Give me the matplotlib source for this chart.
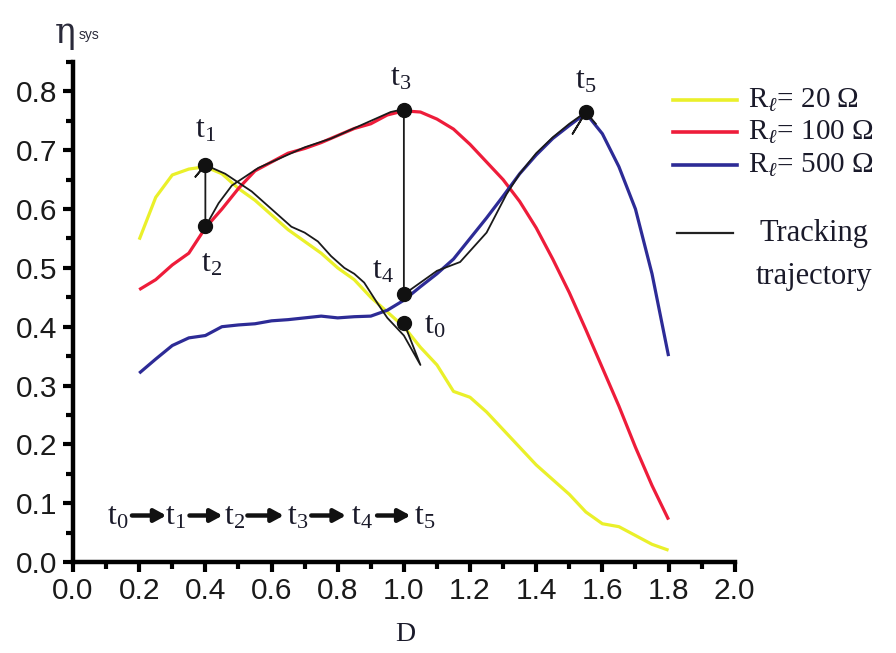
import matplotlib
matplotlib.use("Agg")
import matplotlib.pyplot as plt
from matplotlib.ticker import MultipleLocator, FormatStrFormatter
from matplotlib.lines import Line2D

plt.rcParams['mathtext.fontset'] = 'custom'
plt.rcParams['mathtext.rm'] = 'Liberation Serif'
plt.rcParams['mathtext.it'] = 'Liberation Serif:italic'

# Duty cycle D
d = [0.2, 0.25, 0.3, 0.35, 0.4, 0.45, 0.5, 0.55, 0.6, 0.65, 0.7, 0.75, 0.8,
     0.85, 0.9, 0.95, 1.0, 1.05, 1.1, 1.15, 1.2, 1.25, 1.3, 1.35, 1.4, 1.45,
     1.5, 1.55, 1.6, 1.65, 1.7, 1.75, 1.8]

# System efficiency for each load
eta_20 = [0.548, 0.62, 0.658, 0.668, 0.672, 0.66, 0.635, 0.615, 0.59, 0.565,
          0.545, 0.525, 0.50, 0.48, 0.45, 0.425, 0.40, 0.365, 0.335, 0.29,
          0.28, 0.255, 0.225, 0.195, 0.165, 0.14, 0.115, 0.085, 0.065, 0.06,
          0.045, 0.03, 0.02]
eta_100 = [0.463, 0.48, 0.505, 0.525, 0.568, 0.60, 0.635, 0.665, 0.68, 0.695,
           0.703, 0.713, 0.725, 0.737, 0.745, 0.76, 0.767, 0.765, 0.753, 0.736,
           0.71, 0.68, 0.65, 0.613, 0.568, 0.515, 0.458, 0.395, 0.33, 0.265,
           0.195, 0.13, 0.072]
eta_500 = [0.321, 0.345, 0.368, 0.381, 0.385, 0.40, 0.403, 0.405, 0.41, 0.412,
           0.415, 0.418, 0.415, 0.417, 0.418, 0.428, 0.445, 0.468, 0.49, 0.515,
           0.55, 0.585, 0.622, 0.66, 0.692, 0.72, 0.742, 0.763, 0.728, 0.672,
           0.60, 0.49, 0.35]

# Tracking trajectory (operating points visited by the tracker)
track_d = [1.0, 1.05, 1.0, 0.95, 0.92, 0.88, 0.85, 0.82, 0.78, 0.74, 0.70,
           0.66, 0.62, 0.58, 0.54, 0.50, 0.46, 0.42, 0.40, 0.37, 0.40,
           0.40, 0.44, 0.48, 0.52, 0.56, 0.62, 0.70, 0.78, 0.86, 0.92, 0.96,
           1.0, 1.0, 1.05, 1.1, 1.17, 1.25, 1.31, 1.35, 1.4, 1.45, 1.5,
           1.55, 1.51, 1.55, 1.58]
track_eta = [0.407, 0.335, 0.385, 0.415, 0.44, 0.475, 0.49, 0.50, 0.52, 0.545,
             0.56, 0.57, 0.59, 0.61, 0.63, 0.645, 0.66, 0.67, 0.675, 0.655,
             0.675, 0.57, 0.61, 0.64, 0.655, 0.67, 0.685, 0.705, 0.72, 0.74,
             0.755, 0.765, 0.77, 0.455, 0.475, 0.495, 0.51, 0.56, 0.625,
             0.66, 0.695, 0.722, 0.745, 0.765, 0.728, 0.765, 0.745]

# Marked tracking states
state_names = ['t$_0$', 't$_1$', 't$_2$', 't$_3$', 't$_4$', 't$_5$']
state_d = [1.0, 0.40, 0.40, 1.0, 1.0, 1.55]
state_eta = [0.407, 0.675, 0.572, 0.769, 0.455, 0.765]

c_yellow = '#eaf02a'
c_red = '#ee1c3a'
c_blue = '#2d2b96'
c_text = '#1a1a2a'

fig = plt.figure(figsize=(8.96, 6.53), dpi=100)
ax = fig.add_axes([0.0815, 0.1394, 0.7385, 0.7656])

ax.plot(d, eta_20, color=c_yellow, lw=2.3, solid_capstyle='butt')
ax.plot(d, eta_100, color=c_red, lw=2.3, solid_capstyle='butt')
ax.plot(d, eta_500, color=c_blue, lw=2.3, solid_capstyle='butt')
ax.plot(track_d, track_eta, color='#1a1a1a', lw=1.3)
ax.plot(state_d, state_eta, 'o', color='#111111', ms=10)

serif = 'Liberation Serif'
label_off = [(0.06, -0.005, 'left', 'center'),
             (0.0, 0.035, 'center', 'bottom'),
             (0.02, -0.04, 'center', 'top'),
             (-0.01, 0.03, 'center', 'bottom'),
             (-0.03, 0.04, 'right', 'center'),
             (0.0, 0.028, 'center', 'bottom')]
for name, x, y, (dx, dy, ha, va) in zip(state_names, state_d, state_eta, label_off):
    ax.text(x + dx, y + dy, name, family=serif, fontsize=23, ha=ha, va=va,
            color=c_text)

# Sequence of states along the bottom
seq_x = [0.136, 0.31, 0.488, 0.68, 0.873, 1.063]
seq_y = 0.077
for name, x in zip(state_names, seq_x):
    ax.text(x, seq_y, name, family=serif, fontsize=23, ha='center',
            va='center', color=c_text)
arrow_ends = [(0.178, 0.282), (0.352, 0.452), (0.527, 0.637),
              (0.72, 0.825), (0.919, 1.02)]
for x0, x1 in arrow_ends:
    ax.annotate('', xy=(x1, seq_y + 0.002), xytext=(x0, seq_y + 0.002),
                arrowprops=dict(arrowstyle='-|>,head_length=0.7,head_width=0.38',
                                color='#111111', lw=3.2, shrinkA=0, shrinkB=0))

ax.set_xlim(0, 2.0)
ax.set_ylim(0, 0.85)
ax.xaxis.set_major_locator(MultipleLocator(0.2))
ax.xaxis.set_minor_locator(MultipleLocator(0.1))
ax.yaxis.set_major_locator(MultipleLocator(0.1))
ax.yaxis.set_minor_locator(MultipleLocator(0.05))
ax.xaxis.set_major_formatter(FormatStrFormatter('%.1f'))
ax.yaxis.set_major_formatter(FormatStrFormatter('%.1f'))
ax.spines['top'].set_visible(False)
ax.spines['right'].set_visible(False)
for s in ('left', 'bottom'):
    ax.spines[s].set_linewidth(3.2)
ax.tick_params(which='major', direction='out', length=7, width=3,
               labelsize=21.5, pad=4, labelcolor='#1a1a1a')
ax.tick_params(which='minor', direction='out', length=5, width=3)
for lab in ax.get_xticklabels() + ax.get_yticklabels():
    lab.set_family('Liberation Sans')

# Axis titles
fig.text(0.452, 0.028, 'D', family=serif, fontsize=20, ha='center',
         va='center', color=c_text)
fig.text(0.084, 0.950, 'η', family='DejaVu Serif', fontsize=25, ha='right',
         va='center', color='#2a2a3a')
fig.text(0.088, 0.947, 'sys', family='Liberation Sans', fontsize=10,
         ha='left', va='center', color='#2a2a3a')

# Legend drawn beside the axes
leg_entries = [(c_yellow, 'R$_{\\ell}$= 20 Ω', 0.847),
               (c_red, 'R$_{\\ell}$= 100 Ω', 0.798),
               (c_blue, 'R$_{\\ell}$= 500 Ω', 0.747)]
for col, txt, yf in leg_entries:
    fig.add_artist(Line2D([0.751, 0.822], [yf, yf], color=col, lw=2.6,
                          transform=fig.transFigure))
    fig.text(0.835, yf, txt, family=serif, fontsize=21, ha='left',
             va='center', color=c_text)
fig.add_artist(Line2D([0.756, 0.818], [0.643, 0.643], color='#222222',
                      lw=1.6, transform=fig.transFigure))
fig.text(0.908, 0.643, 'Tracking', family=serif, fontsize=22, ha='center',
         va='center', color=c_text)
fig.text(0.908, 0.576, 'trajectory', family=serif, fontsize=22, ha='center',
         va='center', color=c_text)

fig.savefig('out.png', dpi=100, facecolor='white')
